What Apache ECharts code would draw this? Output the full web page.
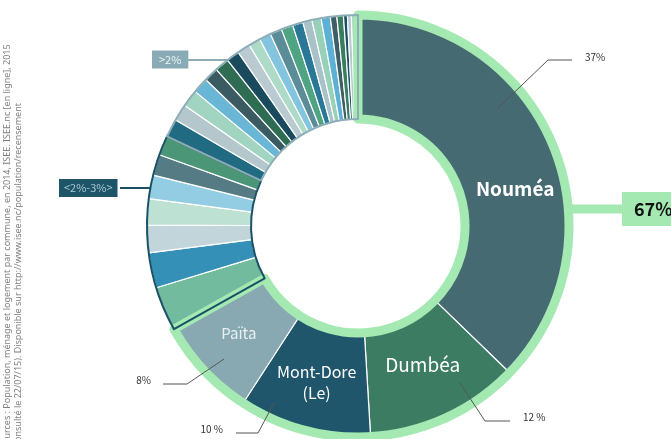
<!DOCTYPE html>
<html><head><meta charset="utf-8">
<script src="https://cdn.jsdelivr.net/npm/echarts@6/dist/echarts.min.js"></script>
<style>html,body{margin:0;padding:0;background:#fff;overflow:hidden}#c{width:671px;height:439px}</style>
</head><body><div id="c"></div>
<script>
// ---- data ----
const communes = ['Nouméa','Dumbéa','Mont-Dore (Le)','Païta','Lifou','Koné','Bourail','Maré','Poindimié','Koumac','Houaïlou',
  'Canala','La Foa','Ouvéa','Voh','Poya','Boulouparis','Thio','Pouembout','Hienghène','Pouébo','Ponérihouen','Ouégoa','Touho',
  'Kaala-Gomen','Île des Pins','Yaté','Kouaoua','Poum','Bélep','Farino','Moindou','Sarraméa'];
const shares = [37.2, 11.8, 10.1, 7.7, 3.4, 2.7, 2.1, 2.0, 1.8, 1.6, 1.5,
  1.4, 1.3, 1.3, 1.2, 1.1, 1.1, 1.0, 1.0, 0.9, 0.9, 0.9, 0.9, 0.8,
  0.7, 0.7, 0.7, 0.5, 0.5, 0.3, 0.3, 0.3, 0.2];
const groupSizes = [4, 7, 22];
const groupLabels = ['67%', '<2%-3%>', '>2%'];
const insideLabels = ['Nouméa', 'Dumbéa', 'Mont-Dore\n(Le)', 'Païta'];
const pctLabels = ['37%', '12 %', '10 %', '8%'];
const sourceLines = [
  'Sources : Population, ménage et logement par commune, en 2014, ISEE. ISEE.nc [en ligne], 2015',
  '(consulté le 22/07/15). Disponible sur http://www.isee.nc/population/recensement'
];

// ---- styles ----
const colors = ['#466a72','#3b7c63','#1f566b','#88a9b2','#72bb9e','#3590b7','#c2d5da','#bde1d3','#92cde3','#557c84','#4b9676',
  '#206b82','#b3c7cd','#a2d5c1','#69b6d6','#3a5b62','#2e6c54','#1a4a5e','#b9cbd1','#addbc8','#83c4df','#5b8d98','#4fa483',
  '#2a7898','#a9c1c8','#98d1ba','#5db1d7','#3f5f67','#3a7e60','#1d5168','#b5c9cf','#a5d6c2','#6ab5d3'];
const CX = 358, CY = 226, R0 = 107, R1 = 211;
const FONT = "'Noto Sans CJK JP','Noto Sans',sans-serif";

const insideStyles = [
  {fontSize: 19, fontWeight: 'bold', offset: [8, 26]},
  {fontSize: 19, offset: [-3, -8]},
  {fontSize: 16, lineHeight: 21, offset: [0, 0]},
  {fontSize: 15, offset: [-1, -4], color: '#e8f0f2'}
];
const groupStyles = [
  {border: '#a4e9b2', width: 9, bg: '#a4e9b2', color: '#111', fontSize: 18, fontWeight: 'bold', padding: [8, 30, 8, 12],
   x: 622, y: 209, pts: [[566, 209], [623, 209]]},
  {border: '#1b5166', width: 2, bg: '#1e5468', color: '#a9cad4', fontSize: 11, fontWeight: 'normal', padding: [4, 5, 3, 5],
   x: 59, y: 188, pts: [[120, 188], [151, 188]]},
  {border: '#8cadb8', width: 2, bg: '#88abb6', color: '#eef4f6', fontSize: 11, fontWeight: 'normal', padding: [4, 7, 3, 7],
   x: 152, y: 59.5, pts: [[188, 60], [229, 60]]}
];
const pctLayout = [
  {x: 585, y: 57, align: 'left', pts: [[497, 109], [548, 60], [572, 60]]},
  {x: 523, y: 417, align: 'left', pts: [[460, 383], [485, 421], [510, 421]]},
  {x: 223, y: 429, align: 'right', pts: [[274, 403], [258, 433], [236, 433]]},
  {x: 151, y: 380, align: 'right', pts: [[224, 359], [187, 384], [163, 384]]}
];

// ---- build ----
const groupValues = [];
let k = 0;
for (const n of groupSizes) { let s = 0; for (let i = 0; i < n; i++) s += shares[k++]; groupValues.push(+s.toFixed(2)); }

const mainData = communes.map((n, i) => ({
  name: n, value: shares[i], itemStyle: {color: colors[i]},
  label: i < insideLabels.length
    ? Object.assign({show: true, position: 'inside', formatter: insideLabels[i], color: '#fff', fontFamily: FONT}, insideStyles[i])
    : {show: false}
}));

const groupData = groupLabels.map((g, i) => ({
  name: g, value: groupValues[i],
  itemStyle: {color: 'rgba(0,0,0,0)', borderColor: groupStyles[i].border, borderWidth: groupStyles[i].width},
  label: {show: true, formatter: g, backgroundColor: groupStyles[i].bg, color: groupStyles[i].color,
    fontSize: groupStyles[i].fontSize, fontWeight: groupStyles[i].fontWeight, padding: groupStyles[i].padding, fontFamily: FONT},
  labelLine: {show: true, lineStyle: {color: groupStyles[i].border, width: i === 0 ? 9 : 2}}
}));

const pctData = communes.map((n, i) => ({
  name: n, value: shares[i],
  label: {show: i < pctLabels.length, formatter: pctLabels[i] || ''},
  labelLine: {show: i < pctLabels.length}
}));

const base = {type: 'pie', center: [CX, CY], radius: [R0, R1], startAngle: 90, clockwise: true,
  avoidLabelOverlap: false, silent: true, emphasis: {disabled: true}, animation: false};

const option = {
  animation: false,
  graphic: [{
    type: 'text', x: 2, y: 449, rotation: Math.PI / 2,
    style: {text: sourceLines.join('\n'), fontSize: 9, lineHeight: 11, fill: '#808080',
      fontFamily: "'Noto Sans',sans-serif", align: 'left', verticalAlign: 'top'}
  }],
  series: [
    Object.assign({}, base, {z: 2, data: mainData, itemStyle: {borderColor: '#ffffff', borderWidth: 1.2}, labelLine: {show: false}}),
    Object.assign({}, base, {z: 3, data: groupData,
      label: {position: 'outside'}, labelLine: {length: 5, length2: 5},
      labelLayout: p => {
        const s = groupStyles[p.dataIndex];
        return {x: s.x, y: s.y, align: 'left', verticalAlign: 'middle', labelLinePoints: s.pts};
      }}),
    Object.assign({}, base, {z: 4, data: pctData, itemStyle: {color: 'rgba(0,0,0,0)'},
      label: {position: 'outside', color: '#333', fontSize: 10, fontFamily: FONT},
      labelLine: {length: 5, length2: 5, lineStyle: {color: '#555', width: 1}},
      labelLayout: p => {
        const s = pctLayout[p.dataIndex];
        if (!s) return {};
        return {x: s.x, y: s.y, align: s.align, verticalAlign: 'middle', labelLinePoints: s.pts};
      }})
  ]
};
const chart = echarts.init(document.getElementById('c'), null, {renderer: 'canvas'});
chart.setOption(option);
</script>
</body></html>
